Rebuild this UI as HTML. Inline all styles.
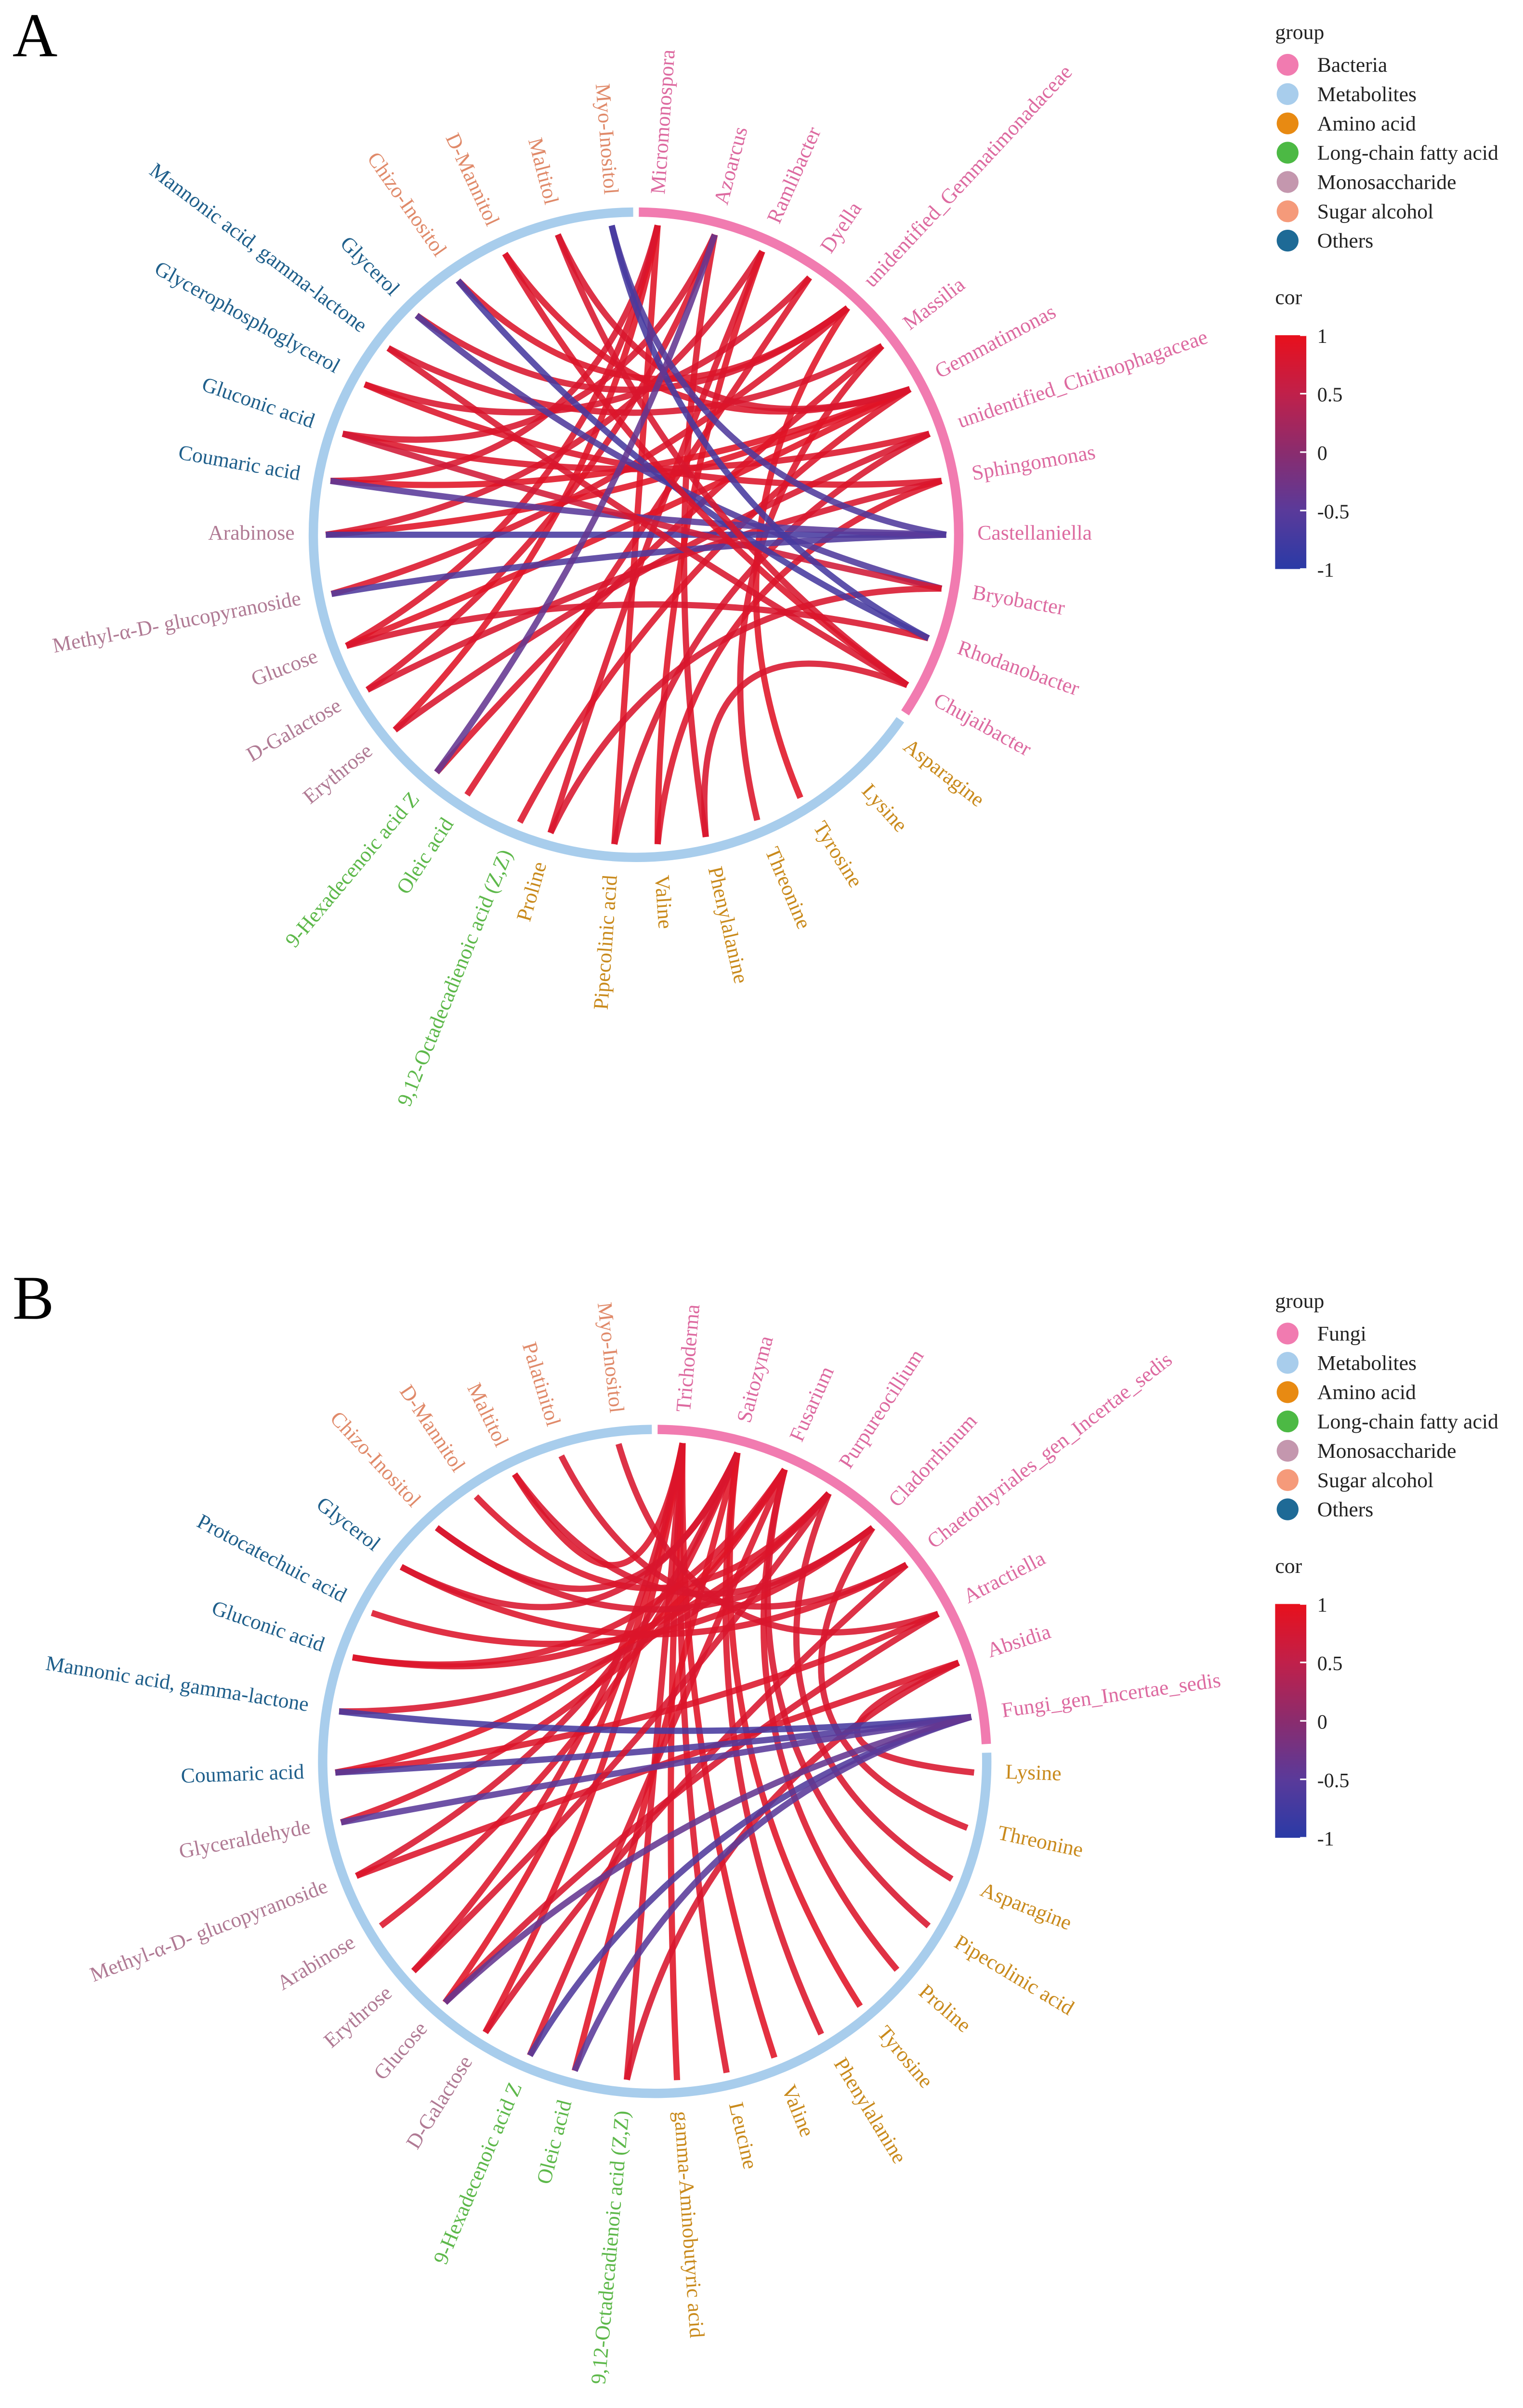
<!DOCTYPE html>
<html><head><meta charset="utf-8"><style>
html,body{margin:0;padding:0;background:#fff;width:3162px;height:5059px;overflow:hidden;}
svg{display:block;}
text{font-family:"Liberation Serif",serif;}
</style></head><body>
<svg id="chart" width="3162" height="5059" viewBox="0 0 977 1563" xmlns="http://www.w3.org/2000/svg">
<defs>
<linearGradient id="corGrad" x1="0" y1="0" x2="0" y2="1">
<stop offset="0" stop-color="#e8101c"/><stop offset="0.25" stop-color="#c0204a"/><stop offset="0.5" stop-color="#8a2c6e"/><stop offset="0.75" stop-color="#5a3a9a"/><stop offset="1" stop-color="#2a3aa6"/>
</linearGradient>
</defs>
<text x="8" y="36" font-size="40">A</text>
<text x="8" y="846" font-size="40">B</text>
<g id="panelA"></g>
<g id="panelB"></g>
<g id="legendA"></g>
<g id="legendB"></g>
</svg>
<script>
const textColors = {Bacteria:"#dd6aa0",Fungi:"#dd6aa0",Amino:"#c98a1c",Fatty:"#5db84a",Mono:"#b07a94",Sugar:"#e08a6a",Others:"#1f5f8b"};

const aNames = ["Micromonospora","Azoarcus","Ramlibacter","Dyella","unidentified_Gemmatimonadaceae","Massilia","Gemmatimonas","unidentified_Chitinophagaceae","Sphingomonas","Castellaniella","Bryobacter","Rhodanobacter","Chujaibacter",
"Asparagine","Lysine","Tyrosine","Threonine","Phenylalanine","Valine","Pipecolinic acid","Proline",
"9,12-Octadecadienoic acid (Z,Z)","Oleic acid","9-Hexadecenoic acid Z",
"Erythrose","D-Galactose","Glucose","Methyl-α-D- glucopyranoside","Arabinose",
"Coumaric acid","Gluconic acid","Glycerophosphoglycerol","Mannonic acid, gamma-lactone","Glycerol",
"Chizo-Inositol","D-Mannitol","Maltitol","Myo-Inositol"];
const aAngles = [4,14.7,24,34,43,52.5,62,71,80,90,100,109.5,119,128,138,148,157,167,176,184,196,202,213,220,231,240,249,259,270,280,289,299,307,315,325,335,345.4,355.5];
const aGroups = ["Bacteria","Bacteria","Bacteria","Bacteria","Bacteria","Bacteria","Bacteria","Bacteria","Bacteria","Bacteria","Bacteria","Bacteria","Bacteria",
"Amino","Amino","Amino","Amino","Amino","Amino","Amino","Amino","Fatty","Fatty","Fatty","Mono","Mono","Mono","Mono","Mono",
"Others","Others","Others","Others","Others","Sugar","Sugar","Sugar","Sugar"];
const aLinkSource = [0,0,0,0,1,1,1,2,2,2,3,3,4,4,4,4,5,5,5,6,6,6,6,6,6,7,7,7,8,8,8,9,9,9,9,10,10,10,11,11,12,12,12,12,11,1];
const aLinkTarget = [19,26,24,29,17,30,25,18,28,20,31,22,15,27,33,34,16,32,23,26,29,28,21,35,36,30,19,24,31,25,18,28,27,29,37,33,30,20,34,26,36,35,32,17,37,23];
const aLinkCor = [0.9,0.85,0.9,0.8,0.85,0.8,0.85,0.9,0.8,0.85,0.8,0.85,0.9,0.85,0.8,0.85,0.85,0.8,0.85,0.9,0.9,0.9,0.85,0.85,0.8,0.85,0.8,0.8,0.85,0.8,0.85,-0.7,-0.6,-0.5,-0.6,-0.6,0.7,0.8,-0.7,0.8,0.8,0.85,0.8,0.8,-0.7,-0.4];

const bNames = ["Trichoderma","Saitozyma","Fusarium","Purpureocillium","Cladorrhinum","Chaetothyriales_gen_Incertae_sedis","Atractiella","Absidia","Fungi_gen_Incertae_sedis",
"Lysine","Threonine","Asparagine","Pipecolinic acid","Proline","Tyrosine","Phenylalanine","Valine","Leucine","gamma-Aminobutyric acid",
"9,12-Octadecadienoic acid (Z,Z)","Oleic acid","9-Hexadecenoic acid Z",
"D-Galactose","Glucose","Erythrose","Arabinose","Methyl-α-D- glucopyranoside","Glyceraldehyde",
"Coumaric acid","Mannonic acid, gamma-lactone","Gluconic acid","Protocatechuic acid","Glycerol",
"Chizo-Inositol","D-Mannitol","Maltitol","Palatinitol","Myo-Inositol"];
const bAngles = [5,15,24,33,43,52,62.5,72,82,92,102,111.6,121,130.7,140,148.6,158,167,176,185,194.5,203,212,221,229,239,249,259,268,279,289,297.7,307.5,317,326,334,343,353.5];
const bGroups = ["Fungi","Fungi","Fungi","Fungi","Fungi","Fungi","Fungi","Fungi","Fungi",
"Amino","Amino","Amino","Amino","Amino","Amino","Amino","Amino","Amino","Amino","Fatty","Fatty","Fatty","Mono","Mono","Mono","Mono","Mono","Mono",
"Others","Others","Others","Others","Others","Sugar","Sugar","Sugar","Sugar","Sugar"];
const bLinkSource = [0,0,0,0,0,0,0,1,1,1,1,1,1,2,2,2,2,2,3,3,3,3,4,4,4,5,5,5,6,6,6,7,7,7,8,8,8,8,8,8,0,1,2,3,4];
const bLinkTarget = [22,23,24,16,17,18,19,20,25,26,15,14,33,27,28,13,12,21,29,30,11,34,31,10,35,32,22,36,37,28,23,9,26,19,29,28,27,21,20,23,35,32,30,24,33];
const bLinkCor = [0.9,0.9,0.85,0.9,0.85,0.9,0.85,0.9,0.85,0.8,0.85,0.9,0.8,0.85,0.9,0.85,0.8,0.85,0.8,0.85,0.8,0.85,0.85,0.8,0.8,0.85,0.8,0.8,0.8,0.85,0.8,0.8,0.85,0.8,-0.7,-0.6,-0.5,-0.6,-0.5,-0.4,0.85,0.8,0.85,0.8,0.8];

const legendLabelsA = ["Bacteria","Metabolites","Amino acid","Long-chain fatty acid","Monosaccharide","Sugar alcohol","Others"];
const legendLabelsB = ["Fungi","Metabolites","Amino acid","Long-chain fatty acid","Monosaccharide","Sugar alcohol","Others"];
const legendColors = ["#f17bb0","#a8cdec","#e88a12","#4cb944","#c497ae","#f59a7a","#1e6a96"];
const corTicks = ["1","0.5","0","-0.5","-1"];
const corTickValues = [1,0.5,0,-0.5,-1];

const NS="http://www.w3.org/2000/svg";
function el(tag, attrs, parent){const e=document.createElementNS(NS,tag);for(const k in attrs)e.setAttribute(k,attrs[k]);parent.appendChild(e);return e;}
function hex(c){return [parseInt(c.slice(1,3),16),parseInt(c.slice(3,5),16),parseInt(c.slice(5,7),16)];}
const stops=[[-1,"#2a3aa6"],[-0.5,"#5a3a9a"],[0,"#8a2c6e"],[0.5,"#c0204a"],[1,"#e8101c"]];
function corColor(v){for(let i=0;i<stops.length-1;i++){const[a,ca]=stops[i],[b,cb]=stops[i+1];if(v<=b){const t=(v-a)/(b-a);const A=hex(ca),B=hex(cb);return "rgb("+A.map((x,j)=>Math.round(x+(B[j]-x)*t)).join(",")+")";}}return "#e8101c";}
function pt(cx,cy,r,a){const t=a*Math.PI/180;return [cx+r*Math.sin(t),cy-r*Math.cos(t)];}
function arc(cx,cy,r,a0,a1){const p0=pt(cx,cy,r,a0),p1=pt(cx,cy,r,a1);const large=(a1-a0)>180?1:0;return `M${p0[0]},${p0[1]} A${r},${r} 0 ${large} 1 ${p1[0]},${p1[1]}`;}

function drawPanel(g, cx, cy, r, names, angles, groups, src, tgt, cor, pinkEnd, blueStart, prefix){
  const ringP = el("path",{d:arc(cx,cy,r,0.5,pinkEnd),fill:"none",stroke:"#f17bb0","stroke-width":6},g);
  
  
  const ringB = el("path",{d:arc(cx,cy,r,blueStart,359.5),fill:"none",stroke:"#a8cdec","stroke-width":6},g);
  
  
  for(let i=0;i<src.length;i++){
    const p1=pt(cx,cy,r-8,angles[src[i]]), p2=pt(cx,cy,r-8,angles[tgt[i]]);
    const c=[cx+(p1[0]+p2[0]-2*cx)*0.15, cy+(p1[1]+p2[1]-2*cy)*0.15];
    const path=el("path",{d:`M${p1[0]},${p1[1]} Q${c[0]},${c[1]} ${p2[0]},${p2[1]}`,fill:"none",stroke:corColor(cor[i]),"stroke-width":4,"stroke-opacity":0.88},g);
    
    
  }
  for(let i=0;i<names.length;i++){
    const a=angles[i];const p=pt(cx,cy,r+12,a);
    const left=a>180;const rot=left?a+90:a-90;
    const t=el("text",{x:p[0],y:p[1],"font-size":13.5,fill:textColors[groups[i]],"text-anchor":left?"end":"start","dominant-baseline":"middle",transform:`rotate(${rot} ${p[0]} ${p[1]})`},g);
    t.textContent=names[i];
    
    
  }
}

function drawLegend(g, y0, labels){
  const title=el("text",{x:818,y:y0,"font-size":13.5,fill:"#222"},g);title.textContent="group";
  
  
  for(let i=0;i<labels.length;i++){
    const y=y0+21+i*18.8;
    const c=el("circle",{cx:826,cy:y-4.5,r:7,fill:legendColors[i]},g);
    
    
    const t=el("text",{x:845,y:y,"font-size":13.5,fill:"#222"},g);t.textContent=labels[i];
    
    
  }
  const ct=el("text",{x:818,y:y0+170,"font-size":13.5,fill:"#222"},g);ct.textContent="cor";
  
  
  const top=y0+190,h=150;
  const bar=el("rect",{x:818,y:top,width:20,height:h,fill:"url(#corGrad)"},g);
  
  
  for(let i=0;i<corTicks.length;i++){
    const y=top+(1-corTickValues[i])/2*h;
    const tk=el("line",{x1:834,x2:838,y1:y,y2:y,stroke:"#fff","stroke-width":1},g);
    
    
    const t=el("text",{x:845,y:y+5,"font-size":13,fill:"#222"},g);t.textContent=corTicks[i];
    
    
  }
}

drawPanel(document.getElementById("panelA"),408,343,207,aNames,aAngles,aGroups,aLinkSource,aLinkTarget,aLinkCor,123.5,125,"a");
drawPanel(document.getElementById("panelB"),420,1130,213,bNames,bAngles,bGroups,bLinkSource,bLinkTarget,bLinkCor,87,88.5,"b");
drawLegend(document.getElementById("legendA"),25,legendLabelsA);
drawLegend(document.getElementById("legendB"),839,legendLabelsB);
</script>
</body></html>
